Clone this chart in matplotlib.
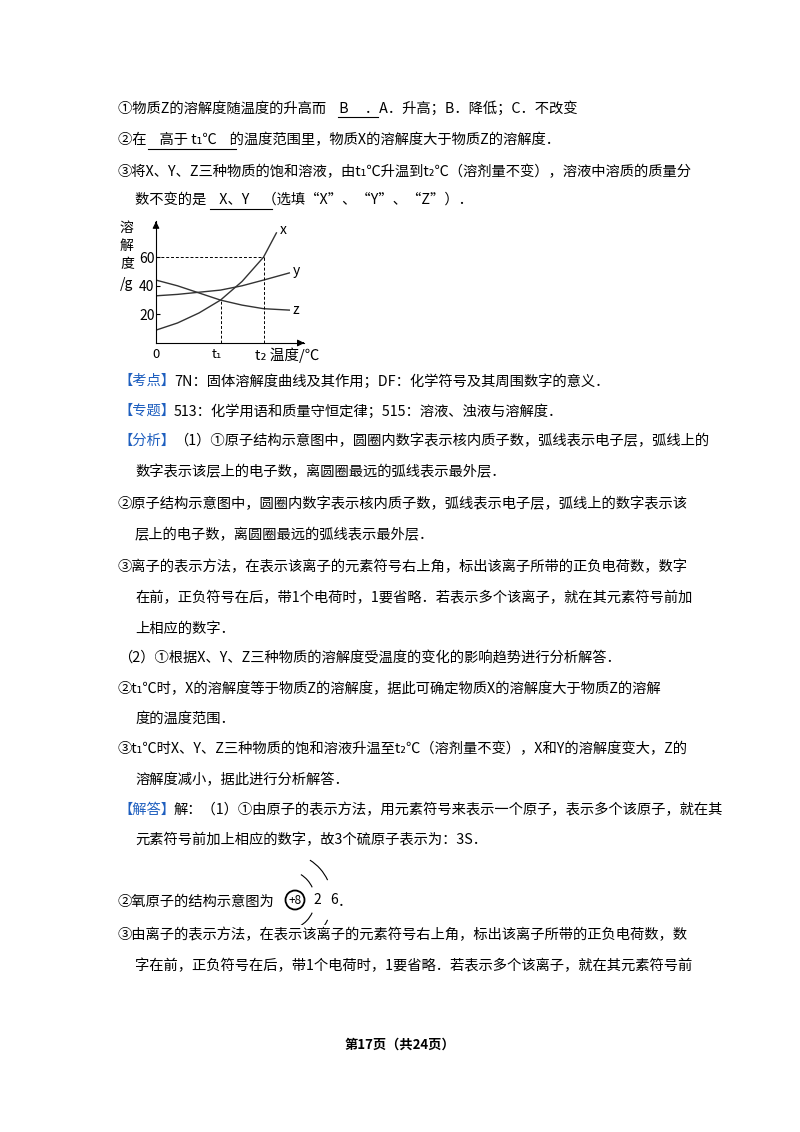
import matplotlib
matplotlib.use("Agg")
import matplotlib.pyplot as plt
import numpy as np
from matplotlib.patches import Circle, Arc

plt.rcParams['font.family'] = ['Noto Sans CJK SC', 'DejaVu Sans']

# chart data (temperature units: t1=3, t2=5)
temp_x = [0, 1, 2, 3, 4, 5, 5.6]
sol_x = [9, 14, 21, 30, 43, 60, 77]
temp_y = [0, 1, 2, 3, 4, 5, 6.2]
sol_y = [33, 34, 35.5, 37, 40, 44, 49]
temp_z = [0, 1, 2, 3, 4, 5, 6.2]
sol_z = [44, 40, 35, 30, 26.5, 24, 23]
yticks = [20, 40, 60]
t1, t2 = 3, 5

W, H = 800, 1132
fig = plt.figure(figsize=(8, 11.32), dpi=100)
FS = 10.3
BLUE = '#1f5fbf'

def T(x, y, s, **kw):
    kw.setdefault('fontsize', FS)
    fig.text(x / W, 1 - y / H, s, va='center', ha='left', **kw)

def UL(x0, x1, y):
    fig.add_artist(plt.Line2D([x0 / W, x1 / W], [1 - y / H, 1 - y / H], color='black', lw=0.8))

T(118, 108, "①物质Z的溶解度随温度的升高而    B     ．A．升高；B．降低；C．不改变")
UL(338, 378, 117)
T(118, 140, "②在    高于 t₁℃    的温度范围里，物质X的溶解度大于物质Z的溶解度．")
UL(148, 236, 149)
T(118, 172, "③将X、Y、Z三种物质的饱和溶液，由t₁℃升温到t₂℃（溶剂量不变），溶液中溶质的质量分")
T(135, 200, "数不变的是    X、Y    （选填“X”、“Y”、“Z”）．")
UL(210, 272, 209)

# chart
x0p, y0p = 156, 343
sx, sy = 21.5, 1.43
xmax, ymax = 6.9, 85
ax = fig.add_axes([x0p / W, 1 - y0p / H, xmax * sx / W, ymax * sy / H])
ax.set_xlim(0, xmax); ax.set_ylim(0, ymax)
for s in ['top', 'right']:
    ax.spines[s].set_visible(False)
ax.plot(temp_x, sol_x, color='#333', lw=1)
ax.plot(temp_y, sol_y, color='#333', lw=1)
ax.plot(temp_z, sol_z, color='#333', lw=1)
ax.plot([0, t2], [60, 60], 'k--', lw=0.7, dashes=(3, 2))
ax.plot([t2, t2], [0, 60], 'k--', lw=0.7, dashes=(3, 2))
ax.plot([t1, t1], [0, 30], 'k--', lw=0.7, dashes=(3, 2))
ax.set_xticks([]); ax.set_yticks(yticks)
ax.set_yticklabels([str(v) for v in yticks], fontsize=10)
ax.tick_params(axis='y', length=3, direction='in', pad=1)
ax.annotate('', xy=(xmax, 0), xytext=(xmax - 0.2, 0), arrowprops=dict(arrowstyle='-|>', color='k', lw=0.8))
ax.annotate('', xy=(0, ymax), xytext=(0, ymax - 3), arrowprops=dict(arrowstyle='-|>', color='k', lw=0.8))
ax.text(5.75, 79, 'x', fontsize=10, va='center')
ax.text(6.35, 50, 'y', fontsize=10, va='center')
ax.text(6.35, 23, 'z', fontsize=10, va='center')
T(152, 355, "0", fontsize=9.5)
T(212, 355, "t₁", fontsize=9.5)
T(255, 355, "t₂ 温度/℃", fontsize=10.5)
T(120, 228, "溶", fontsize=10)
T(120, 246, "解", fontsize=10)
T(120, 264, "度", fontsize=10)
T(120, 284, "/g", fontsize=10)

def P(x, y, pre, rest):
    T(x, y, pre, color=BLUE)
    T(x + 56, y, rest)

P(118, 381, "【考点】", "7N：固体溶解度曲线及其作用；DF：化学符号及其周围数字的意义．")
P(118, 411, "【专题】", "513：化学用语和质量守恒定律；515：溶液、浊液与溶解度．")
P(118, 441, "【分析】", "（1）①原子结构示意图中，圆圈内数字表示核内质子数，弧线表示电子层，弧线上的")
lines = [
    (135, 472, "数字表示该层上的电子数，离圆圈最远的弧线表示最外层．"),
    (118, 504, "②原子结构示意图中，圆圈内数字表示核内质子数，弧线表示电子层，弧线上的数字表示该"),
    (135, 535, "层上的电子数，离圆圈最远的弧线表示最外层．"),
    (118, 567, "③离子的表示方法，在表示该离子的元素符号右上角，标出该离子所带的正负电荷数，数字"),
    (135, 598, "在前，正负符号在后，带1个电荷时，1要省略．若表示多个该离子，就在其元素符号前加"),
    (135, 629, "上相应的数字．"),
    (118, 659, "（2）①根据X、Y、Z三种物质的溶解度受温度的变化的影响趋势进行分析解答．"),
    (118, 689, "②t₁℃时，X的溶解度等于物质Z的溶解度，据此可确定物质X的溶解度大于物质Z的溶解"),
    (135, 719, "度的温度范围．"),
    (118, 749, "③t₁℃时X、Y、Z三种物质的饱和溶液升温至t₂℃（溶剂量不变），X和Y的溶解度变大，Z的"),
    (135, 780, "溶解度减小，据此进行分析解答．"),
]
for x, y, s in lines:
    T(x, y, s)
P(118, 810, "【解答】", "解：（1）①由原子的表示方法，用元素符号来表示一个原子，表示多个该原子，就在其")
T(135, 840, "元素符号前加上相应的数字，故3个硫原子表示为：3S．")
T(118, 902, "②氧原子的结构示意图为")
T(338, 902, "．")
# atom diagram (pixel coordinates inside a small axes)
axa = fig.add_axes([270 / W, 1 - 925 / H, 80 / W, 70 / H])
axa.set_xlim(270, 350); axa.set_ylim(925, 855); axa.axis('off')
axa.add_patch(Circle((295, 900), 9.5, fill=False, lw=1.3))
axa.text(295, 900, '+8', ha='center', va='center', fontsize=8.5)
for r in (30, 47):
    axa.add_patch(Arc((285, 900), 2 * r, 2 * r, theta1=25, theta2=62, lw=0.8))
    axa.add_patch(Arc((285, 900), 2 * r, 2 * r, theta1=-58, theta2=-25, lw=0.8))
axa.text(317, 900, '2', ha='center', va='center', fontsize=10)
axa.text(334, 900, '6', ha='center', va='center', fontsize=10)
T(118, 935, "③由离子的表示方法，在表示该离子的元素符号右上角，标出该离子所带的正负电荷数，数")
T(135, 966, "字在前，正负符号在后，带1个电荷时，1要省略．若表示多个该离子，就在其元素符号前")
fig.text(0.5, 1 - 1045 / H, "第17页（共24页）", ha='center', va='center', fontsize=9.5, fontweight='bold')

fig.savefig('out.png', dpi=100)
